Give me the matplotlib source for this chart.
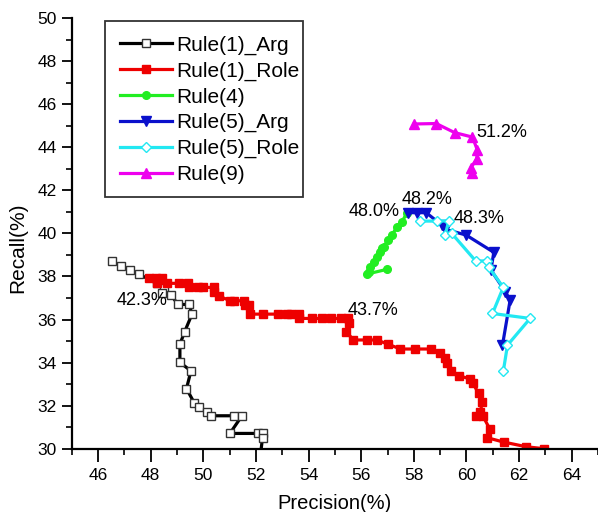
import matplotlib
matplotlib.use("Agg")
import matplotlib.pyplot as plt
from matplotlib.patches import Rectangle
from matplotlib.ticker import MultipleLocator

plt.rcParams['font.family'] = ['Liberation Sans', 'DejaVu Sans']

# Rule(1)_Arg
r1a_p = [46.52, 46.87, 47.22, 47.56, 48.24, 48.49, 48.42, 48.78, 49.04, 49.46, 49.57,
         49.29, 49.11, 49.11, 49.53, 49.36, 49.65, 49.84, 50.15, 50.31, 51.17, 51.47,
         51.01, 52.08, 52.25, 52.25, 52.18]
r1a_r = [38.72, 38.50, 38.30, 38.10, 37.68, 37.48, 37.24, 37.12, 36.70, 36.70, 36.25,
         35.43, 34.85, 34.01, 33.61, 32.79, 32.14, 31.92, 31.72, 31.53, 31.53, 31.53,
         30.71, 30.71, 30.71, 30.51, 29.80]

# Rule(1)_Role
r1r_p = [47.94, 48.20, 48.42, 48.23, 48.63, 49.07, 49.43, 49.46, 49.79, 50.00, 50.40,
         50.40, 50.59, 51.02, 51.17, 51.53, 51.57, 51.75, 51.77, 52.25, 52.83, 53.19,
         53.33, 53.62, 53.65, 54.13, 54.50, 54.86, 55.22, 55.51, 55.54, 55.44, 55.70,
         56.23, 56.59, 57.03, 57.49, 58.04, 58.66, 58.98, 59.20, 59.27, 59.42, 59.71,
         60.14, 60.25, 60.46, 60.60, 60.53, 60.36, 60.62, 60.89, 60.79, 61.41, 62.28,
         62.96]
r1r_r = [37.91, 37.91, 37.91, 37.68, 37.68, 37.68, 37.68, 37.49, 37.49, 37.49, 37.49,
         37.29, 37.09, 36.87, 36.87, 36.87, 36.67, 36.67, 36.25, 36.25, 36.25, 36.25,
         36.25, 36.25, 36.05, 36.05, 36.05, 36.05, 36.05, 36.05, 35.85, 35.43, 35.05,
         35.05, 35.05, 34.85, 34.63, 34.63, 34.63, 34.43, 34.23, 33.96, 33.61, 33.39,
         33.24, 33.03, 32.57, 32.15, 31.72, 31.53, 31.53, 30.91, 30.51, 30.31, 30.09,
         30.00]

# Rule(4)
r4_p = [56.98, 56.22, 56.28, 56.35, 56.47, 56.60, 56.73, 56.79, 56.85, 57.02, 57.17,
        57.36, 57.55, 57.73]
r4_r = [38.33, 38.11, 38.22, 38.45, 38.68, 38.89, 39.15, 39.30, 39.38, 39.69, 39.92,
        40.31, 40.54, 40.93]

# Rule(5)_Arg
r5a_p = [57.79, 58.11, 58.47, 59.06, 59.20, 59.99, 61.04, 60.93, 61.48, 61.66, 61.37]
r5a_r = [40.96, 40.96, 40.96, 40.39, 40.19, 39.92, 39.12, 38.30, 37.29, 36.90, 34.81]

# Rule(5)_Role
r5r_p = [58.22, 58.89, 59.33, 59.19, 59.44, 60.35, 60.77, 60.84, 61.40, 60.99, 62.42,
         61.56, 61.40]
r5r_r = [40.57, 40.57, 40.58, 39.92, 40.00, 38.72, 38.72, 38.45, 37.49, 36.28, 36.05,
         34.81, 33.59]

# Rule(9)
r9_p = [58.02, 58.85, 59.55, 60.23, 60.42, 60.39, 60.16, 60.21]
r9_r = [45.08, 45.10, 44.68, 44.47, 43.85, 43.45, 43.03, 42.82]

labels = ['42.3%', '43.7%', '48.0%', '48.2%', '48.3%', '51.2%']
label_x = [46.69, 55.47, 55.54, 57.52, 59.52, 60.37]
label_y = [36.90, 36.44, 41.00, 41.55, 40.70, 44.69]

fig = plt.figure(figsize=(5.98, 5.12), dpi=100)
ax = fig.add_axes([0.12, 0.1236, 0.88, 0.8412])

lw = 2.3
ax.plot(r1a_p, r1a_r, '-s', color='black', lw=lw, ms=5.5, mfc='white', mec='#333333',
        mew=1, label='Rule(1)_Arg')
ax.plot(r1r_p, r1r_r, '-s', color='#ee0000', lw=lw, ms=5.5, mfc='#ee0000', mec='#ee0000',
        label='Rule(1)_Role')
ax.plot(r4_p, r4_r, '-o', color='#22ee22', lw=lw, ms=5.5, label='Rule(4)')
ax.plot(r5a_p, r5a_r, '-v', color='#0a10cc', lw=lw, ms=6.5, label='Rule(5)_Arg')
ax.plot(r5r_p, r5r_r, '-D', color='#22e8f2', lw=lw, ms=5.5, mfc='white', mec='#22e8f2',
        mew=1, label='Rule(5)_Role')
ax.plot(r9_p, r9_r, '-^', color='#ee00ee', lw=lw, ms=6.5, label='Rule(9)')

for t, x, y in zip(labels, label_x, label_y):
    ax.text(x, y, t, fontsize=13, ha='left', va='center')

ax.set_xlim(45, 65)
ax.set_ylim(30, 50)
ax.xaxis.set_minor_locator(MultipleLocator(1))
ax.yaxis.set_major_locator(MultipleLocator(2))
ax.yaxis.set_minor_locator(MultipleLocator(1))
ax.set_xticks(range(46, 65, 2))
ax.tick_params(axis='both', which='major', direction='out', length=7, width=1.3,
               labelsize=12.5)
ax.tick_params(axis='both', which='minor', direction='out', length=4, width=1.2)
ax.tick_params(axis='x', which='major', length=9, pad=5)
ax.tick_params(axis='y', which='major', pad=4)

for s in ['top', 'right']:
    ax.spines[s].set_visible(False)
for s in ['left', 'bottom']:
    ax.spines[s].set_linewidth(1.6)

ax.set_xlabel('Precision(%)', fontsize=14.5)
ax.set_ylabel('Recall(%)', fontsize=15)
ax.xaxis.set_label_coords(0.5, -0.106)
ax.yaxis.set_label_coords(-0.085, 0.467)

# legend box drawn by hand: text sits close to the right edge in the original
box = Rectangle((0.0637, 0.585), 0.3751, 0.4087, transform=ax.transAxes,
                facecolor='white', edgecolor='#333333', lw=1.3, zorder=4.5,
                clip_on=False)
ax.add_patch(box)
leg = ax.legend(loc='upper left', bbox_to_anchor=(0.0637, 0.9937), fontsize=15,
                frameon=False, handlelength=2.5, labelspacing=0.32, borderpad=0.72,
                handletextpad=0.2, borderaxespad=0)

fig.savefig('out.png', dpi=100)
